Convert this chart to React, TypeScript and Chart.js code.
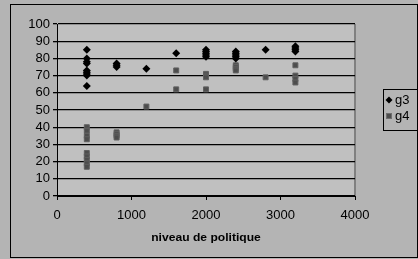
import React, { useEffect, useRef } from "react";
import { Chart, registerables } from "chart.js";

Chart.register(...registerables);

const g3X = [400, 400, 400, 400, 400, 400, 400, 400, 400, 800, 800, 800, 1200, 1600, 2000, 2000, 2000, 2000, 2000, 2400, 2400, 2400, 2400, 2400, 2800, 3200, 3200, 3200, 3200];
const g3Y = [85, 80, 78, 77, 73, 72, 71, 70, 64, 77, 76, 75, 74, 83, 85, 84, 83, 82, 81, 84, 83, 82, 81, 80, 85, 87, 86, 85, 84];
const g4X = [400, 400, 400, 400, 400, 400, 400, 400, 400, 800, 800, 800, 800, 1200, 1600, 1600, 2000, 2000, 2000, 2000, 2400, 2400, 2400, 2400, 2800, 3200, 3200, 3200, 3200];
const g4Y = [40, 38, 35, 33, 25, 23, 21, 19, 17, 37, 36, 35, 34, 52, 73, 62, 71, 70, 69, 62, 76, 75, 74, 73, 69, 76, 70, 68, 66];
const seriesNames = ["g3", "g4"];
const xTitle = "niveau de politique";

const FONT = "'Liberation Sans', Arial, sans-serif";

export default function App() {
  const ref = useRef<HTMLCanvasElement | null>(null);
  useEffect(() => {
    document.body.style.margin = "0";
    const bg = {
      id: "bg",
      beforeDraw(chart: any) {
        const { ctx, chartArea: a } = chart;
        ctx.save();
        ctx.fillStyle = "#b4b4b4";
        ctx.fillRect(0, 0, chart.width, chart.height);
        ctx.strokeStyle = "#000";
        ctx.lineWidth = 1;
        ctx.strokeRect(10.5, 4.5, 407, 253);
        ctx.fillStyle = "#c0c0c0";
        ctx.fillRect(a.left, a.top, a.right - a.left, a.bottom - a.top);
        ctx.strokeStyle = "#808080";
        ctx.lineWidth = 2;
        ctx.beginPath();
        ctx.moveTo(a.right, a.top);
        ctx.lineTo(a.right, a.bottom);
        ctx.stroke();
        ctx.restore();
      },
      afterDraw(chart: any) {
        const { ctx } = chart;
        ctx.save();
        ctx.strokeStyle = "#000";
        ctx.lineWidth = 1;
        ctx.strokeRect(383.5, 89.5, 40, 41);
        ctx.font = `13px ${FONT}`;
        ctx.textBaseline = "middle";
        ctx.textAlign = "left";
        ctx.fillStyle = "#000";
        ctx.beginPath();
        ctx.moveTo(389, 96.5);
        ctx.lineTo(392.5, 100);
        ctx.lineTo(389, 103.5);
        ctx.lineTo(385.5, 100);
        ctx.closePath();
        ctx.fill();
        ctx.fillText(seriesNames[0], 395, 100);
        ctx.fillStyle = "#4d4d4d";
        ctx.fillRect(386, 113, 6, 6);
        ctx.strokeStyle = "#6e6e6e";
        ctx.strokeRect(386.5, 113.5, 5, 5);
        ctx.fillStyle = "#000";
        ctx.fillText(seriesNames[1], 395, 116);
        ctx.font = `bold 11px ${FONT}`;
        ctx.textAlign = "center";
        ctx.translate(206, 238);
        ctx.scale(1.1, 1);
        ctx.fillText(xTitle, 0, 0);
        ctx.restore();
      },
    };
    const chart = new Chart(ref.current!, {
      type: "scatter",
      data: {
        datasets: [
          {
            label: seriesNames[0],
            data: g3X.map((x, i) => ({ x, y: g3Y[i] })),
            pointStyle: "rectRot",
            pointRadius: 4,
            backgroundColor: "#000",
            borderColor: "#000",
            borderWidth: 0,
          },
          {
            label: seriesNames[1],
            data: g4X.map((x, i) => ({ x, y: g4Y[i] })),
            pointStyle: "rect",
            pointRadius: 3.5,
            backgroundColor: "#4d4d4d",
            borderColor: "#606060",
            borderWidth: 1,
          },
        ],
      },
      plugins: [bg],
      options: {
        responsive: false,
        animation: false,
        layout: { padding: { left: 0, top: 24, right: 63, bottom: 0 } },
        plugins: { legend: { display: false }, tooltip: { enabled: false } },
        scales: {
          x: {
            type: "linear",
            min: 0,
            max: 4000,
            afterFit: (s: any) => { s.height = 63; },
            ticks: {
              stepSize: 1000,
              color: "#000",
              font: { family: FONT, size: 13 },
              padding: 8,
              maxRotation: 0,
              autoSkip: false,
              callback: (v: any) => String(v),
            },
            grid: { drawOnChartArea: false, color: "#000", tickLength: 4 },
            border: { color: "#000", width: 1 },
          },
          y: {
            min: 0,
            max: 100,
            afterFit: (s: any) => { s.width = 57; },
            ticks: { stepSize: 10, autoSkip: false, color: "#000", font: { family: FONT, size: 13 }, padding: 3 },
            grid: { color: "#000", lineWidth: 1.3, tickLength: 4 },
            border: { color: "#000", width: 1 },
          },
        },
      },
    });
    return () => chart.destroy();
  }, []);
  return (
    <div style={{ position: "absolute", left: 0, top: 0, width: 418, height: 259 }}>
      <canvas ref={ref} width={418} height={259} style={{ width: 418, height: 259 }} />
    </div>
  );
}
